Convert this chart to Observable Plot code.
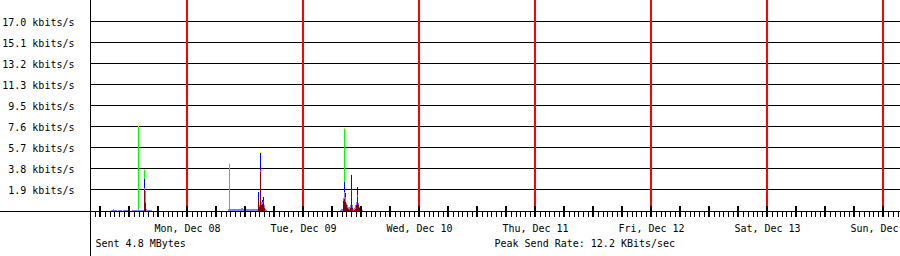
<!DOCTYPE html>
<html><head><meta charset="utf-8">
<script src="https://cdn.jsdelivr.net/npm/d3@7"></script>
<script src="https://cdn.jsdelivr.net/npm/@observablehq/plot@0.6"></script>
<style>
html,body{margin:0;padding:0;background:#fff;overflow:hidden;}
#chart{width:900px;height:256px;overflow:hidden;}
</style></head><body><div id="chart"></div>
<script>
// ---- chart values ----
const viewStart = "2008-12-07 03:56";
const viewEnd = "2008-12-14 03:31";
const sampleMinutes = 720 / 58; // one RRD step (one pixel column)

const dayTicks = ["2008-12-08 00:00","2008-12-09 00:00","2008-12-10 00:00","2008-12-11 00:00","2008-12-12 00:00","2008-12-13 00:00","2008-12-14 00:00"];
const dayLabels = ["Mon, Dec 08","Tue, Dec 09","Wed, Dec 10","Thu, Dec 11","Fri, Dec 12","Sat, Dec 13","Sun, Dec 14"];

const yTickLabels = ["1.9","3.8","5.7","7.6","9.5","11.3","13.2","15.1","17.0"];
const yStep = 1.891;
const yUnit = "kbits/s";

const sentText = "Sent 4.8 MBytes";
const peakText = "Peak Send Rate: 12.2 KBits/sec";

const seriesNames = ["series1","series2","series3","series4","series5","series6"];
const seriesColors = ["#8b0000","#ff00ff","#8080ff","#0000ff","#00ff00","#ffff00"];

// [time, kbits/s]
const series1 = [ // dark red
  ["2008-12-07 15:06",1.85],["2008-12-07 15:19",0.7],
  ["2008-12-08 14:41",1.05],["2008-12-08 14:54",0.4],["2008-12-08 15:06",3.55],["2008-12-08 15:19",0.5],["2008-12-08 15:31",0.6],["2008-12-08 15:43",0.8],["2008-12-08 15:56",0.3],
  ["2008-12-09 08:17",0.9],["2008-12-09 08:29",1.1],["2008-12-09 08:41",0.8],["2008-12-09 08:54",0.5],["2008-12-09 09:06",0.3],["2008-12-09 09:19",0.2],["2008-12-09 09:31",0.1],["2008-12-09 09:43",0.3],["2008-12-09 09:56",1.8],["2008-12-09 10:08",0.3],["2008-12-09 10:33",0.1],["2008-12-09 10:46",0.2],["2008-12-09 10:58",0.5],["2008-12-09 11:10",1.3],["2008-12-09 11:23",0.5],["2008-12-09 11:35",0.3],["2008-12-09 11:48",0.2]
];
const series2 = [ // magenta
  ["2008-12-07 15:06",0.15],
  ["2008-12-08 15:06",0.1],["2008-12-08 15:31",0.05],["2008-12-08 15:43",0.1],
  ["2008-12-09 09:56",0.05],["2008-12-09 11:10",0.1]
];
const series3 = [ // lavender
  ["2008-12-07 08:17",0.1],["2008-12-07 08:29",0.1],["2008-12-07 08:41",0.2],["2008-12-07 08:54",0.1],["2008-12-07 09:06",0.1],["2008-12-07 09:19",0.1],
  ["2008-12-07 09:43",0.1],["2008-12-07 09:56",0.1],["2008-12-07 10:08",0.1],["2008-12-07 10:21",0.1],
  ["2008-12-07 10:46",0.1],["2008-12-07 10:58",0.1],["2008-12-07 11:10",0.1],["2008-12-07 11:23",0.1],["2008-12-07 11:35",0.1],["2008-12-07 11:48",0.1],
  ["2008-12-07 12:37",0.1],["2008-12-07 12:50",0.1],["2008-12-07 13:02",0.1],["2008-12-07 13:14",0.1],["2008-12-07 13:27",0.1],["2008-12-07 13:39",0.1],["2008-12-07 13:52",0.15],["2008-12-07 14:04",0.1],["2008-12-07 14:17",0.1],["2008-12-07 14:29",0.1],["2008-12-07 14:41",0.1],["2008-12-07 14:54",0.1],["2008-12-07 15:06",0.1],["2008-12-07 15:19",0.1],["2008-12-07 15:31",0.15],["2008-12-07 15:43",0.1],["2008-12-07 15:56",0.1],["2008-12-07 16:08",0.1],["2008-12-07 16:21",0.1],["2008-12-07 16:33",0.1],
  ["2008-12-08 08:29",0.2],["2008-12-08 08:41",0.25],["2008-12-08 08:54",0.15],["2008-12-08 09:06",0.15],["2008-12-08 09:19",0.15],["2008-12-08 09:31",0.15],["2008-12-08 09:43",0.15],["2008-12-08 09:56",0.15],["2008-12-08 10:08",0.15],["2008-12-08 10:21",0.15],["2008-12-08 10:33",0.15],["2008-12-08 10:46",0.15],["2008-12-08 10:58",0.15],["2008-12-08 11:10",0.25],["2008-12-08 11:23",0.25],["2008-12-08 11:35",0.15],["2008-12-08 11:48",0.15],["2008-12-08 12:00",0.15],["2008-12-08 12:12",0.15],["2008-12-08 12:25",0.15],["2008-12-08 12:37",0.15],["2008-12-08 12:50",0.15],["2008-12-08 13:02",0.15],["2008-12-08 13:14",0.15],["2008-12-08 13:27",0.15],["2008-12-08 13:39",0.15],["2008-12-08 13:52",0.15],["2008-12-08 14:04",0.15],["2008-12-08 14:17",0.15],["2008-12-08 14:29",0.15],["2008-12-08 14:54",0.15],["2008-12-08 15:19",0.35],["2008-12-08 15:31",0.2],["2008-12-08 15:56",0.2],["2008-12-08 16:08",0.15],["2008-12-08 16:21",0.1],
  ["2008-12-09 07:39",0.1],["2008-12-09 07:52",0.15],["2008-12-09 08:04",0.2],["2008-12-09 08:17",0.3],["2008-12-09 08:29",0.6],["2008-12-09 08:41",0.5],["2008-12-09 08:54",0.2],["2008-12-09 09:06",0.2],["2008-12-09 09:19",0.2],["2008-12-09 09:31",0.3],["2008-12-09 09:43",0.2],["2008-12-09 10:08",0.2],["2008-12-09 10:21",0.2],["2008-12-09 10:33",0.2],["2008-12-09 10:46",0.3],["2008-12-09 10:58",0.3],["2008-12-09 11:23",0.2],["2008-12-09 11:35",0.1],["2008-12-09 11:48",0.2],["2008-12-09 12:00",0.1],["2008-12-09 12:12",0.1]
];
const series4 = [ // blue
  ["2008-12-07 15:06",0.75],
  ["2008-12-08 14:41",0.65],["2008-12-08 15:06",1.6],["2008-12-08 15:31",0.15],["2008-12-08 15:43",0.4],
  ["2008-12-09 08:29",0.9],["2008-12-09 08:41",0.3],["2008-12-09 09:56",1.35],["2008-12-09 11:10",0.8]
];
const series5 = [ // green
  ["2008-12-07 13:52",7.45],["2008-12-07 15:06",0.85],["2008-12-07 15:19",1.0],
  ["2008-12-08 08:41",3.95],
  ["2008-12-09 08:29",4.8]
];
const series6 = [ // yellow
  ["2008-12-07 13:52",0.1],["2008-12-07 15:06",0.1],
  ["2008-12-08 08:41",0.1],["2008-12-08 15:06",0.1],
  ["2008-12-09 08:29",0.1],["2008-12-09 09:56",0.1]
];

// ---- build ----
const parse = d3.utcParse("%Y-%m-%d %H:%M");
const stepMs = sampleMinutes * 60000;
const seriesData = [series1, series2, series3, series4, series5, series6];
const records = [];
seriesData.forEach((arr, k) => {
  for (const [ts, v] of arr) {
    const t = parse(ts);
    records.push({t, t2: new Date(+t + stepMs), v, s: seriesNames[k]});
  }
});

const start = parse(viewStart), end = parse(viewEnd);
const days = dayTicks.map(parse);
const dayLabelOf = new Map(days.map((d, i) => [+d, dayLabels[i]]));
const yTicks = yTickLabels.map((_, i) => (i + 1) * yStep);
const yLabelOf = new Map(yTicks.map((v, i) => [v, `${yTickLabels[i]} ${yUnit}`]));
const hours = d3.utcHour.every(1).range(start, end);
const sixHours = d3.utcHour.every(6).range(start, end);
const crisp = "crispEdges";

const chart = Plot.plot({
  width: 900,
  height: 256,
  marginLeft: 90,
  marginRight: 0,
  marginTop: 1,
  marginBottom: 45,
  style: {fontFamily: "'DejaVu Sans Mono', monospace", fontSize: "10px", background: "#fff", color: "#000", overflow: "hidden"},
  x: {type: "utc", domain: [start, end], round: true, axis: null},
  y: {domain: [0, 10 * yStep], axis: null},
  color: {type: "ordinal", domain: seriesNames, range: seriesColors},
  marks: [
    Plot.ruleY(yTicks, {stroke: "#000", dy: -1, shapeRendering: crisp}),
    Plot.ruleX(days, {stroke: "#ff0000", strokeWidth: 2, dx: -0.5, insetTop: -1, insetBottom: 5, shapeRendering: crisp}),
    Plot.rectY(records, {x1: "t", x2: "t2", y: "v", fill: {value: "s", scale: "color"}, shapeRendering: crisp}),
    Plot.ruleY([0], {stroke: "#000", insetLeft: -90, shapeRendering: crisp}),
    Plot.ruleX([start], {stroke: "#000", insetTop: -1, insetBottom: -45, shapeRendering: crisp}),
    Plot.ruleX(hours, {stroke: "#000", strokeWidth: 1, insetTop: 210, insetBottom: -6, shapeRendering: crisp}),
    Plot.ruleX(sixHours, {stroke: "#000", strokeWidth: 2, dx: -0.5, insetTop: 205, insetBottom: -6, shapeRendering: crisp}),
    Plot.axisY(yTicks, {label: null, tickSize: 0, tickPadding: 16, tickFormat: d => yLabelOf.get(d), fill: "#000"}),
    Plot.axisX(days, {label: null, tickSize: 0, tickPadding: 13, tickFormat: d => dayLabelOf.get(+d), fill: "#000"}),
    Plot.text([sentText], {text: d => d, frameAnchor: "bottom-left", textAnchor: "start", dx: 5, dy: 35, fill: "#000"}),
    Plot.text([peakText], {text: d => d, frameAnchor: "bottom-left", textAnchor: "start", dx: 404, dy: 35, fill: "#000"})
  ]
});
document.getElementById("chart").append(chart);
</script>
</body></html>
